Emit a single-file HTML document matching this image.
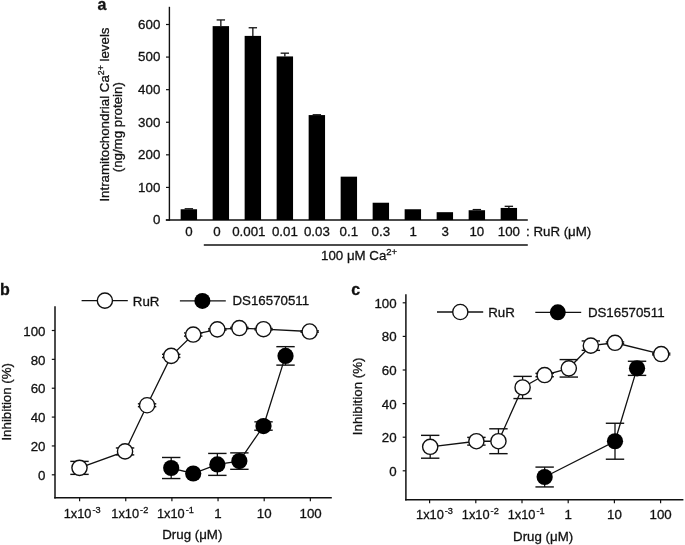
<!DOCTYPE html>
<html><head><meta charset="utf-8"><style>
html,body{margin:0;padding:0;background:#fff;}
svg{display:block;will-change:transform;}
text{font-family:"Liberation Sans", sans-serif;fill:#111;stroke:#111;stroke-width:0.3px;}
</style></head><body>
<svg width="685" height="545" viewBox="0 0 685 545">
<text x="97.50" y="9.90" font-size="16" font-weight="bold" text-anchor="start" >a</text>
<line x1="169.40" y1="6.80" x2="169.40" y2="220.70" stroke="#111" stroke-width="1.4"/>
<line x1="165.80" y1="220.00" x2="527.80" y2="220.00" stroke="#111" stroke-width="1.4"/>
<line x1="166.00" y1="220.00" x2="169.40" y2="220.00" stroke="#111" stroke-width="1.2"/>
<text x="160.30" y="224.35" font-size="13.3" font-weight="normal" text-anchor="end" >0</text>
<line x1="166.00" y1="187.42" x2="169.40" y2="187.42" stroke="#111" stroke-width="1.2"/>
<text x="160.30" y="191.77" font-size="13.3" font-weight="normal" text-anchor="end" >100</text>
<line x1="166.00" y1="154.83" x2="169.40" y2="154.83" stroke="#111" stroke-width="1.2"/>
<text x="160.30" y="159.18" font-size="13.3" font-weight="normal" text-anchor="end" >200</text>
<line x1="166.00" y1="122.25" x2="169.40" y2="122.25" stroke="#111" stroke-width="1.2"/>
<text x="160.30" y="126.60" font-size="13.3" font-weight="normal" text-anchor="end" >300</text>
<line x1="166.00" y1="89.67" x2="169.40" y2="89.67" stroke="#111" stroke-width="1.2"/>
<text x="160.30" y="94.02" font-size="13.3" font-weight="normal" text-anchor="end" >400</text>
<line x1="166.00" y1="57.08" x2="169.40" y2="57.08" stroke="#111" stroke-width="1.2"/>
<text x="160.30" y="61.43" font-size="13.3" font-weight="normal" text-anchor="end" >500</text>
<line x1="166.00" y1="24.50" x2="169.40" y2="24.50" stroke="#111" stroke-width="1.2"/>
<text x="160.30" y="28.85" font-size="13.3" font-weight="normal" text-anchor="end" >600</text>
<rect x="180.65" y="209.25" width="16.4" height="10.75" fill="#000"/>
<line x1="188.85" y1="208.76" x2="188.85" y2="209.25" stroke="#111" stroke-width="1.3"/>
<line x1="184.65" y1="208.76" x2="193.05" y2="208.76" stroke="#111" stroke-width="1.3"/>
<rect x="212.65" y="26.13" width="16.4" height="193.87" fill="#000"/>
<line x1="220.85" y1="19.94" x2="220.85" y2="26.13" stroke="#111" stroke-width="1.3"/>
<line x1="216.65" y1="19.94" x2="225.05" y2="19.94" stroke="#111" stroke-width="1.3"/>
<rect x="244.65" y="35.90" width="16.4" height="184.10" fill="#000"/>
<line x1="252.85" y1="27.76" x2="252.85" y2="35.90" stroke="#111" stroke-width="1.3"/>
<line x1="248.65" y1="27.76" x2="257.05" y2="27.76" stroke="#111" stroke-width="1.3"/>
<rect x="276.65" y="56.43" width="16.4" height="163.57" fill="#000"/>
<line x1="284.85" y1="53.17" x2="284.85" y2="56.43" stroke="#111" stroke-width="1.3"/>
<line x1="280.65" y1="53.17" x2="289.05" y2="53.17" stroke="#111" stroke-width="1.3"/>
<rect x="308.65" y="115.08" width="16.4" height="104.92" fill="#000"/>
<line x1="316.85" y1="114.76" x2="316.85" y2="115.08" stroke="#111" stroke-width="1.3"/>
<line x1="312.65" y1="114.76" x2="321.05" y2="114.76" stroke="#111" stroke-width="1.3"/>
<rect x="340.65" y="176.66" width="16.4" height="43.34" fill="#000"/>
<rect x="372.65" y="202.73" width="16.4" height="17.27" fill="#000"/>
<rect x="404.65" y="209.25" width="16.4" height="10.75" fill="#000"/>
<rect x="436.65" y="212.18" width="16.4" height="7.82" fill="#000"/>
<rect x="468.65" y="210.22" width="16.4" height="9.78" fill="#000"/>
<line x1="476.85" y1="209.57" x2="476.85" y2="210.22" stroke="#111" stroke-width="1.3"/>
<line x1="472.65" y1="209.57" x2="481.05" y2="209.57" stroke="#111" stroke-width="1.3"/>
<rect x="500.65" y="207.94" width="16.4" height="12.06" fill="#000"/>
<line x1="508.85" y1="206.31" x2="508.85" y2="207.94" stroke="#111" stroke-width="1.3"/>
<line x1="504.65" y1="206.31" x2="513.05" y2="206.31" stroke="#111" stroke-width="1.3"/>
<text x="188.85" y="235.60" font-size="13.3" font-weight="normal" text-anchor="middle" >0</text>
<text x="216.85" y="235.60" font-size="13.3" font-weight="normal" text-anchor="middle" >0</text>
<text x="248.85" y="235.60" font-size="13.3" font-weight="normal" text-anchor="middle" >0.001</text>
<text x="284.85" y="235.60" font-size="13.3" font-weight="normal" text-anchor="middle" >0.01</text>
<text x="316.85" y="235.60" font-size="13.3" font-weight="normal" text-anchor="middle" >0.03</text>
<text x="348.85" y="235.60" font-size="13.3" font-weight="normal" text-anchor="middle" >0.1</text>
<text x="380.85" y="235.60" font-size="13.3" font-weight="normal" text-anchor="middle" >0.3</text>
<text x="413.15" y="235.60" font-size="13.3" font-weight="normal" text-anchor="middle" >1</text>
<text x="445.15" y="235.60" font-size="13.3" font-weight="normal" text-anchor="middle" >3</text>
<text x="476.85" y="235.60" font-size="13.3" font-weight="normal" text-anchor="middle" >10</text>
<text x="508.85" y="235.60" font-size="13.3" font-weight="normal" text-anchor="middle" >100</text>
<text x="526.00" y="235.60" font-size="13.3" font-weight="normal" text-anchor="start" >: RuR (μM)</text>
<line x1="203.80" y1="244.90" x2="527.80" y2="244.90" stroke="#111" stroke-width="1.5"/>
<text x="321.00" y="260.00" font-size="13.3" font-weight="normal" text-anchor="start" >100 μM Ca<tspan font-size="9.5" dy="-5.2">2+</tspan></text>
<text transform="translate(109.3,201.6) rotate(-90)" font-size="13.3">Intramitochondrial Ca<tspan font-size="8.8" dy="-5.6">2+</tspan><tspan dy="5.6"> levels</tspan></text>
<text transform="translate(122.0,172.3) rotate(-90)" font-size="13.3">(ng/mg protein)</text>
<text x="0.00" y="294.70" font-size="16" font-weight="bold" text-anchor="start" >b</text>
<line x1="55.00" y1="306.20" x2="55.00" y2="498.50" stroke="#111" stroke-width="1.5"/>
<line x1="54.25" y1="497.75" x2="331.80" y2="497.75" stroke="#111" stroke-width="1.5"/>
<line x1="51.80" y1="474.80" x2="55.00" y2="474.80" stroke="#111" stroke-width="1.2"/>
<text x="45.50" y="479.95" font-size="13.3" font-weight="normal" text-anchor="end" >0</text>
<line x1="51.80" y1="445.94" x2="55.00" y2="445.94" stroke="#111" stroke-width="1.2"/>
<text x="45.50" y="451.09" font-size="13.3" font-weight="normal" text-anchor="end" >20</text>
<line x1="51.80" y1="417.08" x2="55.00" y2="417.08" stroke="#111" stroke-width="1.2"/>
<text x="45.50" y="422.23" font-size="13.3" font-weight="normal" text-anchor="end" >40</text>
<line x1="51.80" y1="388.22" x2="55.00" y2="388.22" stroke="#111" stroke-width="1.2"/>
<text x="45.50" y="393.37" font-size="13.3" font-weight="normal" text-anchor="end" >60</text>
<line x1="51.80" y1="359.36" x2="55.00" y2="359.36" stroke="#111" stroke-width="1.2"/>
<text x="45.50" y="364.51" font-size="13.3" font-weight="normal" text-anchor="end" >80</text>
<line x1="51.80" y1="330.50" x2="55.00" y2="330.50" stroke="#111" stroke-width="1.2"/>
<text x="45.50" y="335.65" font-size="13.3" font-weight="normal" text-anchor="end" >100</text>
<line x1="79.60" y1="497.75" x2="79.60" y2="501.15" stroke="#111" stroke-width="1.2"/>
<line x1="125.75" y1="497.75" x2="125.75" y2="501.15" stroke="#111" stroke-width="1.2"/>
<line x1="171.90" y1="497.75" x2="171.90" y2="501.15" stroke="#111" stroke-width="1.2"/>
<line x1="218.05" y1="497.75" x2="218.05" y2="501.15" stroke="#111" stroke-width="1.2"/>
<line x1="264.20" y1="497.75" x2="264.20" y2="501.15" stroke="#111" stroke-width="1.2"/>
<line x1="310.35" y1="497.75" x2="310.35" y2="501.15" stroke="#111" stroke-width="1.2"/>
<text x="63.65" y="518.40" font-size="12.8">1x10<tspan font-size="9.2" dx="1.0" dy="-5.0">-3</tspan></text>
<text x="111.35" y="518.40" font-size="12.8">1x10<tspan font-size="9.2" dx="1.0" dy="-5.0">-2</tspan></text>
<text x="156.95" y="518.40" font-size="12.8">1x10<tspan font-size="9.2" dx="1.0" dy="-5.0">-1</tspan></text>
<text x="218.05" y="518.40" font-size="13.3" font-weight="normal" text-anchor="middle" >1</text>
<text x="264.20" y="518.40" font-size="13.3" font-weight="normal" text-anchor="middle" >10</text>
<text x="310.65" y="518.40" font-size="13.3" font-weight="normal" text-anchor="middle" >100</text>
<text x="192.30" y="538.80" font-size="13.3" font-weight="normal" text-anchor="middle" >Drug (μM)</text>
<text transform="translate(10.90,401.80) rotate(-90)" font-size="13.3" text-anchor="middle">Inhibition (%)</text>
<line x1="81.60" y1="300.60" x2="127.80" y2="300.60" stroke="#111" stroke-width="1.3"/>
<circle cx="104.90" cy="300.60" r="7.6" fill="#fff" stroke="#111" stroke-width="1.4"/>
<text x="132.80" y="306.00" font-size="13.3" font-weight="normal" text-anchor="start" >RuR</text>
<line x1="179.90" y1="300.90" x2="225.80" y2="300.90" stroke="#111" stroke-width="1.3"/>
<circle cx="202.40" cy="300.90" r="8" fill="#000"/>
<text x="232.50" y="305.30" font-size="13.3" font-weight="normal" text-anchor="start" >DS16570511</text>
<polyline points="79.50,467.87 125.05,451.42 147.07,405.25 171.20,355.90 193.22,334.54 217.35,329.35 239.37,328.05 263.50,329.20 309.65,331.51" fill="none" stroke="#111" stroke-width="1.3"/>
<line x1="79.50" y1="461.38" x2="79.50" y2="474.37" stroke="#111" stroke-width="1.3"/>
<line x1="70.30" y1="461.38" x2="88.70" y2="461.38" stroke="#111" stroke-width="1.4"/>
<line x1="70.30" y1="474.37" x2="88.70" y2="474.37" stroke="#111" stroke-width="1.4"/>
<line x1="125.05" y1="447.96" x2="125.05" y2="454.89" stroke="#111" stroke-width="1.3"/>
<line x1="115.85" y1="447.96" x2="134.25" y2="447.96" stroke="#111" stroke-width="1.4"/>
<line x1="115.85" y1="454.89" x2="134.25" y2="454.89" stroke="#111" stroke-width="1.4"/>
<line x1="147.07" y1="403.80" x2="147.07" y2="406.69" stroke="#111" stroke-width="1.3"/>
<line x1="137.87" y1="403.80" x2="156.27" y2="403.80" stroke="#111" stroke-width="1.4"/>
<line x1="137.87" y1="406.69" x2="156.27" y2="406.69" stroke="#111" stroke-width="1.4"/>
<line x1="171.20" y1="354.31" x2="171.20" y2="357.48" stroke="#111" stroke-width="1.3"/>
<line x1="162.00" y1="354.31" x2="180.40" y2="354.31" stroke="#111" stroke-width="1.4"/>
<line x1="162.00" y1="357.48" x2="180.40" y2="357.48" stroke="#111" stroke-width="1.4"/>
<line x1="193.22" y1="332.95" x2="193.22" y2="336.13" stroke="#111" stroke-width="1.3"/>
<line x1="184.02" y1="332.95" x2="202.42" y2="332.95" stroke="#111" stroke-width="1.4"/>
<line x1="184.02" y1="336.13" x2="202.42" y2="336.13" stroke="#111" stroke-width="1.4"/>
<line x1="217.35" y1="328.62" x2="217.35" y2="330.07" stroke="#111" stroke-width="1.3"/>
<line x1="208.15" y1="328.62" x2="226.55" y2="328.62" stroke="#111" stroke-width="1.4"/>
<line x1="208.15" y1="330.07" x2="226.55" y2="330.07" stroke="#111" stroke-width="1.4"/>
<line x1="239.37" y1="327.33" x2="239.37" y2="328.77" stroke="#111" stroke-width="1.3"/>
<line x1="230.17" y1="327.33" x2="248.57" y2="327.33" stroke="#111" stroke-width="1.4"/>
<line x1="230.17" y1="328.77" x2="248.57" y2="328.77" stroke="#111" stroke-width="1.4"/>
<line x1="263.50" y1="328.48" x2="263.50" y2="329.92" stroke="#111" stroke-width="1.3"/>
<line x1="254.30" y1="328.48" x2="272.70" y2="328.48" stroke="#111" stroke-width="1.4"/>
<line x1="254.30" y1="329.92" x2="272.70" y2="329.92" stroke="#111" stroke-width="1.4"/>
<line x1="309.65" y1="330.79" x2="309.65" y2="332.23" stroke="#111" stroke-width="1.3"/>
<line x1="300.45" y1="330.79" x2="318.85" y2="330.79" stroke="#111" stroke-width="1.4"/>
<line x1="300.45" y1="332.23" x2="318.85" y2="332.23" stroke="#111" stroke-width="1.4"/>
<circle cx="79.50" cy="467.87" r="7.6" fill="#fff" stroke="#111" stroke-width="1.4"/>
<circle cx="125.05" cy="451.42" r="7.6" fill="#fff" stroke="#111" stroke-width="1.4"/>
<circle cx="147.07" cy="405.25" r="7.6" fill="#fff" stroke="#111" stroke-width="1.4"/>
<circle cx="171.20" cy="355.90" r="7.6" fill="#fff" stroke="#111" stroke-width="1.4"/>
<circle cx="193.22" cy="334.54" r="7.6" fill="#fff" stroke="#111" stroke-width="1.4"/>
<circle cx="217.35" cy="329.35" r="7.6" fill="#fff" stroke="#111" stroke-width="1.4"/>
<circle cx="239.37" cy="328.05" r="7.6" fill="#fff" stroke="#111" stroke-width="1.4"/>
<circle cx="263.50" cy="329.20" r="7.6" fill="#fff" stroke="#111" stroke-width="1.4"/>
<circle cx="309.65" cy="331.51" r="7.6" fill="#fff" stroke="#111" stroke-width="1.4"/>
<polyline points="171.20,468.02 193.22,473.50 217.35,464.41 239.37,461.09 263.50,426.03 285.52,355.90" fill="none" stroke="#111" stroke-width="1.3"/>
<line x1="171.20" y1="457.48" x2="171.20" y2="478.55" stroke="#111" stroke-width="1.3"/>
<line x1="162.00" y1="457.48" x2="180.40" y2="457.48" stroke="#111" stroke-width="1.4"/>
<line x1="162.00" y1="478.55" x2="180.40" y2="478.55" stroke="#111" stroke-width="1.4"/>
<line x1="217.35" y1="453.44" x2="217.35" y2="475.38" stroke="#111" stroke-width="1.3"/>
<line x1="208.15" y1="453.44" x2="226.55" y2="453.44" stroke="#111" stroke-width="1.4"/>
<line x1="208.15" y1="475.38" x2="226.55" y2="475.38" stroke="#111" stroke-width="1.4"/>
<line x1="239.37" y1="452.87" x2="239.37" y2="469.32" stroke="#111" stroke-width="1.3"/>
<line x1="230.17" y1="452.87" x2="248.57" y2="452.87" stroke="#111" stroke-width="1.4"/>
<line x1="230.17" y1="469.32" x2="248.57" y2="469.32" stroke="#111" stroke-width="1.4"/>
<line x1="263.50" y1="421.84" x2="263.50" y2="430.21" stroke="#111" stroke-width="1.3"/>
<line x1="254.30" y1="421.84" x2="272.70" y2="421.84" stroke="#111" stroke-width="1.4"/>
<line x1="254.30" y1="430.21" x2="272.70" y2="430.21" stroke="#111" stroke-width="1.4"/>
<line x1="285.52" y1="346.66" x2="285.52" y2="365.13" stroke="#111" stroke-width="1.3"/>
<line x1="276.32" y1="346.66" x2="294.72" y2="346.66" stroke="#111" stroke-width="1.4"/>
<line x1="276.32" y1="365.13" x2="294.72" y2="365.13" stroke="#111" stroke-width="1.4"/>
<circle cx="171.20" cy="468.02" r="8.1" fill="#000"/>
<circle cx="193.22" cy="473.50" r="8.1" fill="#000"/>
<circle cx="217.35" cy="464.41" r="8.1" fill="#000"/>
<circle cx="239.37" cy="461.09" r="8.1" fill="#000"/>
<circle cx="263.50" cy="426.03" r="8.1" fill="#000"/>
<circle cx="285.52" cy="355.90" r="8.1" fill="#000"/>
<text x="351.20" y="294.60" font-size="16" font-weight="bold" text-anchor="start" >c</text>
<line x1="405.90" y1="294.30" x2="405.90" y2="500.60" stroke="#111" stroke-width="1.5"/>
<line x1="405.15" y1="499.85" x2="683.40" y2="499.85" stroke="#111" stroke-width="1.5"/>
<line x1="402.70" y1="470.80" x2="405.90" y2="470.80" stroke="#111" stroke-width="1.2"/>
<text x="396.60" y="475.85" font-size="13.3" font-weight="normal" text-anchor="end" >0</text>
<line x1="402.70" y1="437.20" x2="405.90" y2="437.20" stroke="#111" stroke-width="1.2"/>
<text x="396.60" y="442.25" font-size="13.3" font-weight="normal" text-anchor="end" >20</text>
<line x1="402.70" y1="403.60" x2="405.90" y2="403.60" stroke="#111" stroke-width="1.2"/>
<text x="396.60" y="408.65" font-size="13.3" font-weight="normal" text-anchor="end" >40</text>
<line x1="402.70" y1="370.00" x2="405.90" y2="370.00" stroke="#111" stroke-width="1.2"/>
<text x="396.60" y="375.05" font-size="13.3" font-weight="normal" text-anchor="end" >60</text>
<line x1="402.70" y1="336.40" x2="405.90" y2="336.40" stroke="#111" stroke-width="1.2"/>
<text x="396.60" y="341.45" font-size="13.3" font-weight="normal" text-anchor="end" >80</text>
<line x1="402.70" y1="302.80" x2="405.90" y2="302.80" stroke="#111" stroke-width="1.2"/>
<text x="396.60" y="307.85" font-size="13.3" font-weight="normal" text-anchor="end" >100</text>
<line x1="429.60" y1="499.85" x2="429.60" y2="503.25" stroke="#111" stroke-width="1.2"/>
<line x1="475.80" y1="499.85" x2="475.80" y2="503.25" stroke="#111" stroke-width="1.2"/>
<line x1="522.00" y1="499.85" x2="522.00" y2="503.25" stroke="#111" stroke-width="1.2"/>
<line x1="568.20" y1="499.85" x2="568.20" y2="503.25" stroke="#111" stroke-width="1.2"/>
<line x1="614.40" y1="499.85" x2="614.40" y2="503.25" stroke="#111" stroke-width="1.2"/>
<line x1="660.60" y1="499.85" x2="660.60" y2="503.25" stroke="#111" stroke-width="1.2"/>
<text x="416.05" y="519.40" font-size="12.8">1x10<tspan font-size="9.2" dx="1.0" dy="-5.0">-3</tspan></text>
<text x="461.85" y="519.40" font-size="12.8">1x10<tspan font-size="9.2" dx="1.0" dy="-5.0">-2</tspan></text>
<text x="507.65" y="519.40" font-size="12.8">1x10<tspan font-size="9.2" dx="1.0" dy="-5.0">-1</tspan></text>
<text x="568.20" y="519.40" font-size="13.3" font-weight="normal" text-anchor="middle" >1</text>
<text x="614.40" y="519.40" font-size="13.3" font-weight="normal" text-anchor="middle" >10</text>
<text x="660.60" y="519.40" font-size="13.3" font-weight="normal" text-anchor="middle" >100</text>
<text x="543.10" y="541.00" font-size="13.3" font-weight="normal" text-anchor="middle" >Drug (μM)</text>
<text transform="translate(362.30,396.40) rotate(-90)" font-size="13.3" text-anchor="middle">Inhibition (%)</text>
<line x1="437.00" y1="312.00" x2="483.20" y2="312.00" stroke="#111" stroke-width="1.3"/>
<circle cx="460.30" cy="312.00" r="7.6" fill="#fff" stroke="#111" stroke-width="1.4"/>
<text x="488.20" y="317.40" font-size="13.3" font-weight="normal" text-anchor="start" >RuR</text>
<line x1="535.30" y1="312.30" x2="581.20" y2="312.30" stroke="#111" stroke-width="1.3"/>
<circle cx="557.80" cy="312.30" r="8" fill="#000"/>
<text x="587.90" y="316.70" font-size="13.3" font-weight="normal" text-anchor="start" >DS16570511</text>
<polyline points="430.20,446.78 476.40,441.23 498.44,441.23 522.60,387.47 544.64,375.04 568.80,368.32 590.84,345.64 615.00,342.78 661.20,354.04" fill="none" stroke="#111" stroke-width="1.3"/>
<line x1="430.20" y1="435.35" x2="430.20" y2="458.20" stroke="#111" stroke-width="1.3"/>
<line x1="421.00" y1="435.35" x2="439.40" y2="435.35" stroke="#111" stroke-width="1.4"/>
<line x1="421.00" y1="458.20" x2="439.40" y2="458.20" stroke="#111" stroke-width="1.4"/>
<line x1="476.40" y1="437.37" x2="476.40" y2="445.10" stroke="#111" stroke-width="1.3"/>
<line x1="467.20" y1="437.37" x2="485.60" y2="437.37" stroke="#111" stroke-width="1.4"/>
<line x1="467.20" y1="445.10" x2="485.60" y2="445.10" stroke="#111" stroke-width="1.4"/>
<line x1="498.44" y1="428.80" x2="498.44" y2="453.66" stroke="#111" stroke-width="1.3"/>
<line x1="489.24" y1="428.80" x2="507.64" y2="428.80" stroke="#111" stroke-width="1.4"/>
<line x1="489.24" y1="453.66" x2="507.64" y2="453.66" stroke="#111" stroke-width="1.4"/>
<line x1="522.60" y1="376.38" x2="522.60" y2="398.56" stroke="#111" stroke-width="1.3"/>
<line x1="513.40" y1="376.38" x2="531.80" y2="376.38" stroke="#111" stroke-width="1.4"/>
<line x1="513.40" y1="398.56" x2="531.80" y2="398.56" stroke="#111" stroke-width="1.4"/>
<line x1="544.64" y1="373.36" x2="544.64" y2="376.72" stroke="#111" stroke-width="1.3"/>
<line x1="535.44" y1="373.36" x2="553.84" y2="373.36" stroke="#111" stroke-width="1.4"/>
<line x1="535.44" y1="376.72" x2="553.84" y2="376.72" stroke="#111" stroke-width="1.4"/>
<line x1="568.80" y1="359.58" x2="568.80" y2="377.06" stroke="#111" stroke-width="1.3"/>
<line x1="559.60" y1="359.58" x2="578.00" y2="359.58" stroke="#111" stroke-width="1.4"/>
<line x1="559.60" y1="377.06" x2="578.00" y2="377.06" stroke="#111" stroke-width="1.4"/>
<line x1="590.84" y1="340.94" x2="590.84" y2="350.34" stroke="#111" stroke-width="1.3"/>
<line x1="581.64" y1="340.94" x2="600.04" y2="340.94" stroke="#111" stroke-width="1.4"/>
<line x1="581.64" y1="350.34" x2="600.04" y2="350.34" stroke="#111" stroke-width="1.4"/>
<line x1="615.00" y1="341.94" x2="615.00" y2="343.62" stroke="#111" stroke-width="1.3"/>
<line x1="605.80" y1="341.94" x2="624.20" y2="341.94" stroke="#111" stroke-width="1.4"/>
<line x1="605.80" y1="343.62" x2="624.20" y2="343.62" stroke="#111" stroke-width="1.4"/>
<line x1="661.20" y1="353.20" x2="661.20" y2="354.88" stroke="#111" stroke-width="1.3"/>
<line x1="652.00" y1="353.20" x2="670.40" y2="353.20" stroke="#111" stroke-width="1.4"/>
<line x1="652.00" y1="354.88" x2="670.40" y2="354.88" stroke="#111" stroke-width="1.4"/>
<circle cx="430.20" cy="446.78" r="7.6" fill="#fff" stroke="#111" stroke-width="1.4"/>
<circle cx="476.40" cy="441.23" r="7.6" fill="#fff" stroke="#111" stroke-width="1.4"/>
<circle cx="498.44" cy="441.23" r="7.6" fill="#fff" stroke="#111" stroke-width="1.4"/>
<circle cx="522.60" cy="387.47" r="7.6" fill="#fff" stroke="#111" stroke-width="1.4"/>
<circle cx="544.64" cy="375.04" r="7.6" fill="#fff" stroke="#111" stroke-width="1.4"/>
<circle cx="568.80" cy="368.32" r="7.6" fill="#fff" stroke="#111" stroke-width="1.4"/>
<circle cx="590.84" cy="345.64" r="7.6" fill="#fff" stroke="#111" stroke-width="1.4"/>
<circle cx="615.00" cy="342.78" r="7.6" fill="#fff" stroke="#111" stroke-width="1.4"/>
<circle cx="661.20" cy="354.04" r="7.6" fill="#fff" stroke="#111" stroke-width="1.4"/>
<polyline points="544.64,477.02 615.00,441.23 637.04,368.32" fill="none" stroke="#111" stroke-width="1.3"/>
<line x1="544.64" y1="467.10" x2="544.64" y2="486.93" stroke="#111" stroke-width="1.3"/>
<line x1="535.44" y1="467.10" x2="553.84" y2="467.10" stroke="#111" stroke-width="1.4"/>
<line x1="535.44" y1="486.93" x2="553.84" y2="486.93" stroke="#111" stroke-width="1.4"/>
<line x1="615.00" y1="423.26" x2="615.00" y2="459.21" stroke="#111" stroke-width="1.3"/>
<line x1="605.80" y1="423.26" x2="624.20" y2="423.26" stroke="#111" stroke-width="1.4"/>
<line x1="605.80" y1="459.21" x2="624.20" y2="459.21" stroke="#111" stroke-width="1.4"/>
<line x1="637.04" y1="361.26" x2="637.04" y2="375.38" stroke="#111" stroke-width="1.3"/>
<line x1="627.84" y1="361.26" x2="646.24" y2="361.26" stroke="#111" stroke-width="1.4"/>
<line x1="627.84" y1="375.38" x2="646.24" y2="375.38" stroke="#111" stroke-width="1.4"/>
<circle cx="544.64" cy="477.02" r="8.1" fill="#000"/>
<circle cx="615.00" cy="441.23" r="8.1" fill="#000"/>
<circle cx="637.04" cy="368.32" r="8.1" fill="#000"/>
</svg>
</body></html>
